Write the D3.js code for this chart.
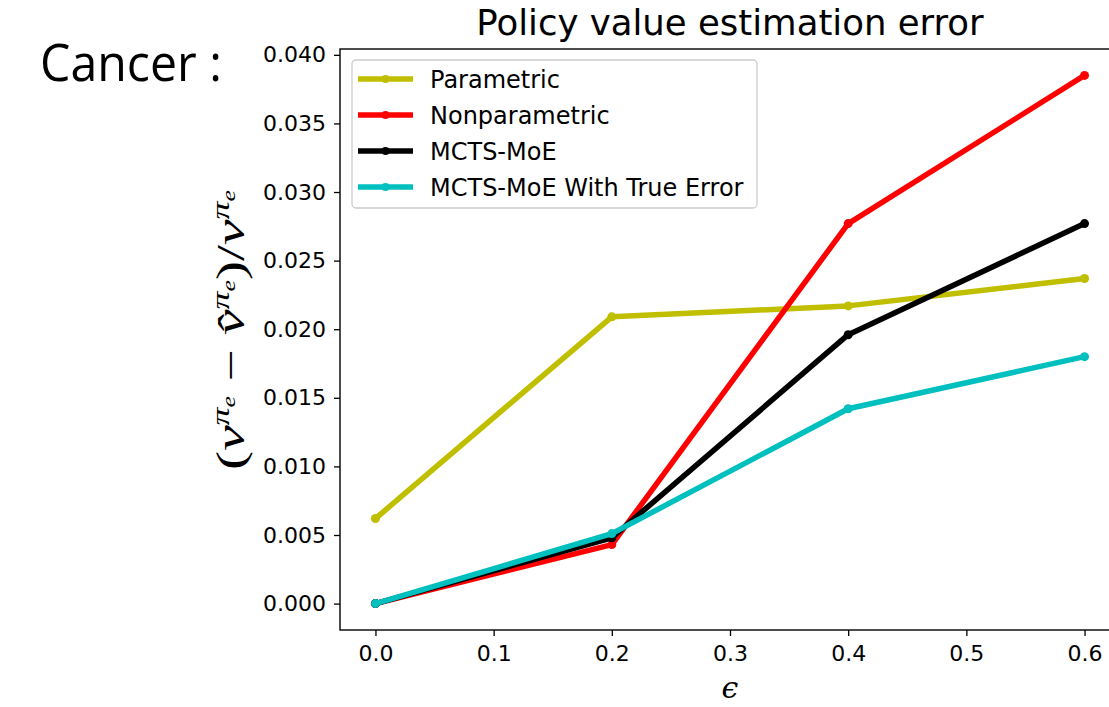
<!DOCTYPE html>
<html>
<head>
<meta charset="utf-8">
<script src="https://cdn.jsdelivr.net/npm/d3@7"></script>
<style>
  body { margin: 0; background: #fff; }
  svg { display: block; }
  .tick text { font-family: "DejaVu Sans", sans-serif; font-size: 22px; fill: #000; }
  .tick line { stroke: #000; stroke-width: 1.3; }
</style>
</head>
<body>
<div id="chart"></div>
<script>
// datos
var eps = [0.0, 0.2, 0.4, 0.6];
var parametric = [0.0062, 0.0209, 0.0217, 0.0237];
var nonparametric = [0.0, 0.0043, 0.0277, 0.0385];
var mctsMoe = [0.0, 0.0048, 0.0196, 0.0277];
var mctsTrue = [0.0, 0.0051, 0.0142, 0.0180];
var seriesNames = ["Parametric", "Nonparametric", "MCTS-MoE", "MCTS-MoE With True Error"];
var colors = ["#bfbf00", "#ff0000", "#000000", "#00bfbf"];
var xTicks = [0.0, 0.1, 0.2, 0.3, 0.4, 0.5, 0.6];
var yTicks = [0.000, 0.005, 0.010, 0.015, 0.020, 0.025, 0.030, 0.035, 0.040];

var series = [parametric, nonparametric, mctsMoe, mctsTrue];

var width = 1109, height = 707;
var margin = {top: 49, right: -11, bottom: 77, left: 340};

var svg = d3.select("#chart").append("svg")
    .attr("width", width)
    .attr("height", height);

// escalas
var eX = d3.scaleLinear().domain([-0.03, 0.63]).range([margin.left, width - margin.right]);
var eY = d3.scaleLinear().domain([-0.001925, 0.040425]).range([height - margin.bottom, margin.top]);

// ejes
var xAxis = d3.axisBottom(eX).tickValues(xTicks).tickFormat(d3.format(".1f")).tickSize(6).tickPadding(9);
var yAxis = d3.axisLeft(eY).tickValues(yTicks).tickFormat(d3.format(".3f")).tickSize(6).tickPadding(8);

svg.append("g")
    .attr("class", "x axis")
    .attr("transform", "translate(0," + (height - margin.bottom) + ")")
    .call(xAxis)
    .call(function(g) { g.select(".domain").remove(); });

svg.append("g")
    .attr("class", "y axis")
    .attr("transform", "translate(" + margin.left + ",0)")
    .call(yAxis)
    .call(function(g) { g.select(".domain").remove(); });

// marco
svg.append("rect")
    .attr("x", margin.left)
    .attr("y", margin.top)
    .attr("width", eX.range()[1] - margin.left)
    .attr("height", height - margin.bottom - margin.top)
    .attr("fill", "none")
    .attr("stroke", "#000")
    .attr("stroke-width", 1.4);

// lineas
var line = d3.line()
    .x(function(d, i) { return eX(eps[i]); })
    .y(function(d) { return eY(d); });

series.forEach(function(s, k) {
  svg.append("path")
      .datum(s)
      .attr("d", line)
      .attr("fill", "none")
      .attr("stroke", colors[k])
      .attr("stroke-width", 5.5)
      .attr("stroke-linejoin", "round")
      .attr("stroke-linecap", "butt");
  svg.selectAll(".dot" + k)
      .data(s)
      .enter().append("circle")
      .attr("cx", function(d, i) { return eX(eps[i]); })
      .attr("cy", function(d) { return eY(d); })
      .attr("r", 4.5)
      .attr("fill", colors[k]);
});

// leyenda
var lg = svg.append("g").attr("transform", "translate(352,60)");
lg.append("rect")
    .attr("width", 405)
    .attr("height", 148)
    .attr("rx", 4)
    .attr("fill", "#fff")
    .attr("fill-opacity", 0.8)
    .attr("stroke", "#cccccc")
    .attr("stroke-width", 1.3);

var items = lg.selectAll(".legend")
    .data(seriesNames)
    .enter().append("g")
    .attr("class", "legend")
    .attr("transform", function(d, i) { return "translate(0," + (19 + i * 36) + ")"; });

items.append("line")
    .attr("x1", 6).attr("x2", 61)
    .attr("stroke", function(d, i) { return colors[i]; })
    .attr("stroke-width", 5.5);
items.append("circle")
    .attr("cx", 33.5).attr("r", 4)
    .attr("fill", function(d, i) { return colors[i]; });
items.append("text")
    .attr("x", 78)
    .attr("dy", "0.36em")
    .style("font-family", "DejaVu Sans, sans-serif")
    .style("font-size", "24px")
    .text(function(d) { return d; });

// titulo
svg.append("text")
    .attr("x", 730)
    .attr("y", 35)
    .attr("text-anchor", "middle")
    .style("font-family", "DejaVu Sans, sans-serif")
    .style("font-size", "35.5px")
    .text("Policy value estimation error");

svg.append("text")
    .attr("x", 40)
    .attr("y", 81)
    .attr("textLength", 182)
    .attr("lengthAdjust", "spacingAndGlyphs")
    .style("font-family", "Open Sans, sans-serif")
    .style("font-size", "52px")
    .text("Cancer :");

// etiqueta eje x
svg.append("text")
    .attr("x", eX(0.3))
    .attr("y", 698)
    .attr("text-anchor", "middle")
    .style("font-family", "DejaVu Serif, serif")
    .style("font-style", "italic")
    .style("font-size", "30px")
    .text("\u03f5");

// etiqueta eje y
var yl = svg.append("text")
    .attr("transform", "translate(244,330) rotate(-90)")
    .attr("text-anchor", "middle")
    .attr("textLength", 280)
    .attr("lengthAdjust", "spacingAndGlyphs")
    .style("font-family", "Liberation Serif, serif")
    .style("font-size", "40px");
yl.append("tspan").text("(");
yl.append("tspan").style("font-style", "italic").text("v");
yl.append("tspan").attr("dy", -15).style("font-size", "25px").style("font-style", "italic").text("\u03c0");
yl.append("tspan").attr("dy", 6).style("font-size", "18px").style("font-style", "italic").text("e");
yl.append("tspan").attr("dy", 9).text(" \u2212 ");
yl.append("tspan").style("font-style", "italic").text("v\u0302");
yl.append("tspan").attr("dy", -15).style("font-size", "25px").style("font-style", "italic").text("\u03c0");
yl.append("tspan").attr("dy", 6).style("font-size", "18px").style("font-style", "italic").text("e");
yl.append("tspan").attr("dy", 9).text(")/");
yl.append("tspan").style("font-style", "italic").text("v");
yl.append("tspan").attr("dy", -15).style("font-size", "25px").style("font-style", "italic").text("\u03c0");
yl.append("tspan").attr("dy", 6).style("font-size", "18px").style("font-style", "italic").text("e");
</script>
</body>
</html>
